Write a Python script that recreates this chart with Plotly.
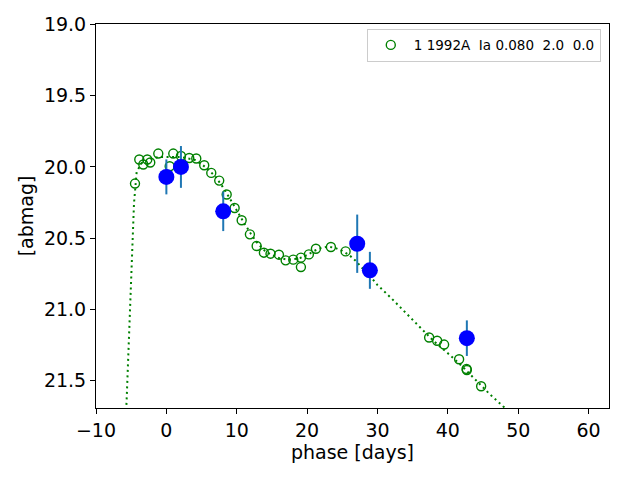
"""Light curve of SN 1992A: photometry, model and binned points (plotly)."""

import plotly.graph_objects as go

# green open circles: observed photometry
obs_phase = [-4.46, -3.85, -3.28, -2.71, -2.29, -1.15, 0.47, 0.98, 2.07, 3.25,
             4.25, 5.38, 6.38, 7.51, 8.57, 9.70, 10.70, 11.87, 12.83, 13.86,
             14.80, 16.00, 16.95, 18.03, 19.12, 19.12, 20.25, 21.25, 23.38, 25.47,
             37.34, 38.48, 39.47, 41.60, 42.66, 42.70, 44.73]
obs_mag = [20.117, 19.948, 19.983, 19.948, 19.969, 19.906, 19.995, 19.906, 19.923, 19.937,
           19.941, 19.988, 20.042, 20.096, 20.194, 20.289, 20.375, 20.474, 20.556, 20.603,
           20.610, 20.617, 20.657, 20.652, 20.638, 20.704, 20.615, 20.575, 20.563, 20.594,
           21.199, 21.222, 21.249, 21.352, 21.420, 21.428, 21.542]

# dotted green model curve
model_phase = [-5.75, -5.64, -4.60, -4.22, -3.5, -3.0, -2.0, -1.0, 0.0, 1.0, 2.0, 3.0,
               4.0, 5.0, 6.0, 7.0, 8.0, 9.0, 10.0, 11.0, 12.0, 13.0, 14.0, 15.0,
               16.0, 17.0, 18.0, 19.0, 20.0, 21.0, 22.0, 23.0, 24.0, 25.0, 26.0, 27.0,
               28.0, 29.0, 30.0, 31.0, 32.0, 33.0, 34.0, 35.0, 36.0, 37.0, 38.0, 40.0,
               42.0, 44.0, 46.0, 48.0, 49.0]
model_mag = [21.75, 21.63, 20.256, 20.035, 19.97, 19.96, 19.94, 19.93, 19.93, 19.93, 19.93, 19.94,
             19.95, 19.98, 20.02, 20.07, 20.14, 20.22, 20.31, 20.39, 20.47, 20.54, 20.59, 20.62,
             20.64, 20.65, 20.65, 20.64, 20.62, 20.59, 20.57, 20.56, 20.57, 20.59, 20.62, 20.665,
             20.72, 20.77, 20.83, 20.875, 20.925, 20.975, 21.025, 21.075, 21.125, 21.175, 21.225, 21.31,
             21.40, 21.50, 21.60, 21.69, 21.74]

# blue filled points with error bars
bin_phase = [0.0, 2.07, 8.08, 27.12, 28.92, 42.70]
bin_mag = [20.07, 20.0, 20.312, 20.54, 20.727, 21.204]
bin_err = [0.123, 0.147, 0.139, 0.205, 0.13, 0.125]

legend_label = "1 1992A  Ia 0.080  2.0  0.0"

fig = go.Figure()
fig.add_trace(go.Scatter(
    x=model_phase, y=model_mag, mode="lines", showlegend=False,
    line=dict(color="green", width=2, dash="2px,3.5px"),
))
fig.add_trace(go.Scatter(
    x=obs_phase, y=obs_mag, mode="markers", name=legend_label,
    marker=dict(symbol="circle-open", size=9, color="green", line=dict(width=1.4)),
))
fig.add_trace(go.Scatter(
    x=bin_phase, y=bin_mag, mode="markers", showlegend=False,
    marker=dict(size=16, color="blue"),
    error_y=dict(type="data", array=bin_err, color="#1f77b4", thickness=2, width=0),
))

axis_style = dict(
    showline=True, linecolor="black", linewidth=1, mirror=True, automargin=False,
    ticks="outside", ticklen=5, tickcolor="black", showgrid=False, zeroline=False,
    tickfont=dict(size=19, color="black"),
)
fig.update_xaxes(range=[-10, 62.9], dtick=10, tick0=-10,
                 title=dict(text="phase [days]", font=dict(size=19, color="black"), standoff=2),
                 **axis_style)
fig.update_yaxes(range=[21.695, 18.995], tickvals=[19.0, 19.5, 20.0, 20.5, 21.0, 21.5],
                 tickformat=".1f",
                 title=dict(text="[abmag]", font=dict(size=19, color="black"), standoff=5),
                 **axis_style)

# the page body adds an 8px offset, so margins are trimmed to land the axes in place
fig.update_layout(
    width=640, height=480,
    margin=dict(l=88, r=39, t=16, b=80),
    paper_bgcolor="white", plot_bgcolor="white",
    font=dict(family="DejaVu Sans", color="black"),
    legend=dict(x=0.984, y=0.988, xanchor="right", yanchor="top",
                bgcolor="white", bordercolor="#cccccc", borderwidth=1,
                itemwidth=36,
                font=dict(size=13.5, color="black")),
)

fig.write_html("out.html")
